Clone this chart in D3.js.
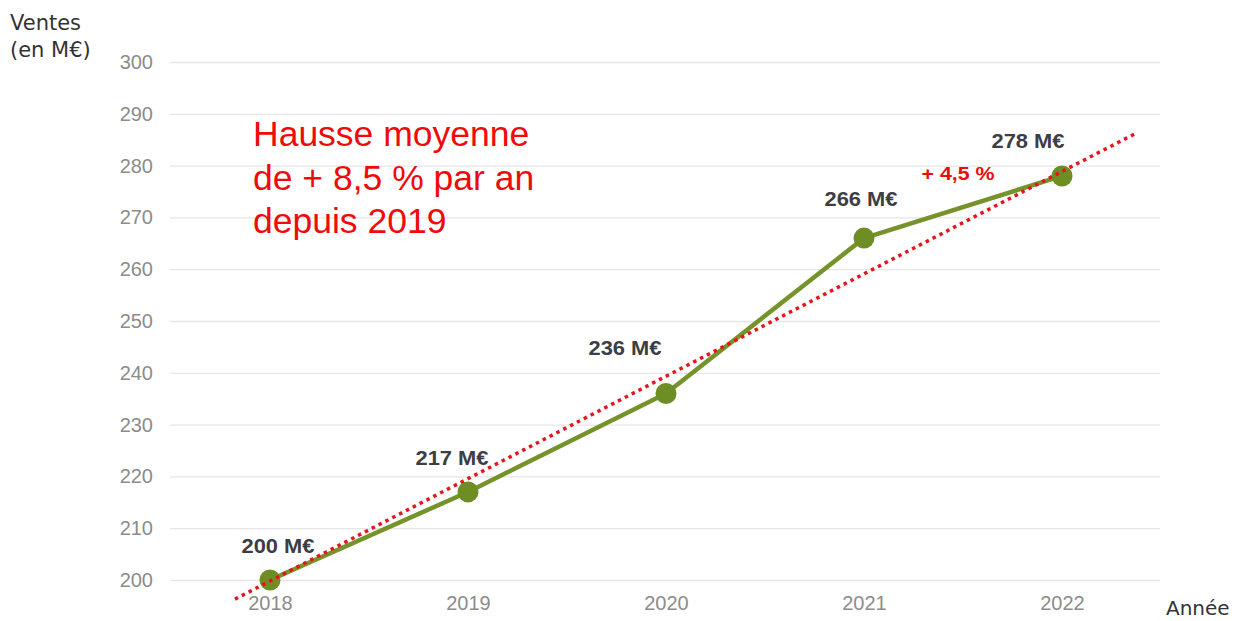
<!DOCTYPE html>
<html><head><meta charset="utf-8">
<script src="https://cdn.jsdelivr.net/npm/d3@7"></script>
<style>body{margin:0;background:#fff}svg{display:block}</style>
</head><body>
<svg id="c" width="1237" height="621"></svg>
<script>
const years = [2018, 2019, 2020, 2021, 2022];
const sales = [200, 217, 236, 266, 278];
const salesLabels = ["200 M€", "217 M€", "236 M€", "266 M€", "278 M€"];
const yTicks = [200, 210, 220, 230, 240, 250, 260, 270, 280, 290, 300];
const trendYears = [2017.823, 2022.366];
const trendValues = [196.3, 286.1];
const noteLines = ["Hausse moyenne", "de + 8,5 % par an", "depuis 2019"];
const growthLabel = "+ 4,5 %";

// label placement offsets (styling)
const labelDx = [8, -16, -41, -3, -34];
const labelDy = [-27, -27, -39, -32, -28];

const svg = d3.select("#c");
const x = d3.scaleLinear().domain([2018, 2022]).range([270, 1062]);
const y = d3.scaleLinear().domain([200, 300]).range([580, 62]);
const af = "'Liberation Sans', Arial, sans-serif";

// gridlines
const yAxis = d3.axisLeft(y).tickValues(yTicks).tickSize(-990).tickPadding(17).tickFormat(d3.format("d"));
const gy = svg.append("g").attr("transform", "translate(170,0)").call(yAxis);
gy.select(".domain").remove();
gy.selectAll(".tick line").attr("stroke", "#e6e6e6").attr("stroke-width", 1.3);
gy.selectAll(".tick text").attr("fill", "#8c8c8c").attr("font-family", af).attr("font-size", 20);

// x axis labels
const xAxis = d3.axisBottom(x).tickValues(years).tickSize(0).tickPadding(0).tickFormat(d3.format("d"));
const gx = svg.append("g").attr("transform", "translate(0,596)").call(xAxis);
gx.select(".domain").remove();
gx.selectAll(".tick text").attr("fill", "#8c8c8c").attr("font-family", af).attr("font-size", 20).attr("dy", "0.68em");

// axis titles
const tf = "'DejaVu Sans', 'Open Sans', sans-serif";
svg.append("text").attr("x", 10).attr("y", 30).attr("font-family", tf).attr("font-size", 21).attr("fill", "#333").text("Ventes");
svg.append("text").attr("x", 10).attr("y", 57).attr("font-family", tf).attr("font-size", 21).attr("fill", "#333").text("(en M€)");
svg.append("text").attr("x", 1166).attr("y", 615).attr("font-family", tf).attr("font-size", 20).attr("fill", "#333").text("Année");

const data = years.map((yr, i) => ({yr, v: sales[i], label: salesLabels[i], dx: labelDx[i], dy: labelDy[i]}));

// line
const line = d3.line().x(d => x(d.yr)).y(d => y(d.v));
svg.append("path").datum(data).attr("d", line).attr("fill", "none").attr("stroke", "#76932b").attr("stroke-width", 4.5).attr("stroke-linejoin", "round");

// markers
svg.selectAll("circle.pt").data(data).join("circle").attr("class", "pt")
  .attr("cx", d => x(d.yr)).attr("cy", d => y(d.v)).attr("r", 10.5).attr("fill", "#6f8d25");

// trend line
const trend = trendYears.map((t, i) => ({yr: t, v: trendValues[i]}));
svg.append("path").datum(trend).attr("d", line).attr("fill", "none")
  .attr("stroke", "#e8141c").attr("stroke-width", 3.5).attr("stroke-dasharray", "3.5 4.2");

// value labels
svg.selectAll("text.vl").data(data).join("text").attr("class", "vl")
  .attr("x", d => x(d.yr) + d.dx).attr("y", d => y(d.v) + d.dy)
  .attr("text-anchor", "middle").attr("font-family", af)
  .attr("font-weight", "bold").attr("font-size", 20).attr("fill", "#3d3d44")
  .attr("textLength", 73).attr("lengthAdjust", "spacingAndGlyphs").text(d => d.label);

// annotation
svg.append("text").attr("font-family", af).attr("font-size", 35.5).attr("fill", "#f00a0a")
  .selectAll("tspan").data(noteLines).join("tspan").attr("x", 253).attr("y", (d, i) => 146 + i * 43.5).text(d => d);

svg.append("text").attr("x", 958).attr("y", 180).attr("text-anchor", "middle")
  .attr("font-family", af).attr("font-weight", "bold").attr("font-size", 19)
  .attr("fill", "#f00a0a").attr("textLength", 73).attr("lengthAdjust", "spacingAndGlyphs").text(growthLabel);
</script>
</body></html>
